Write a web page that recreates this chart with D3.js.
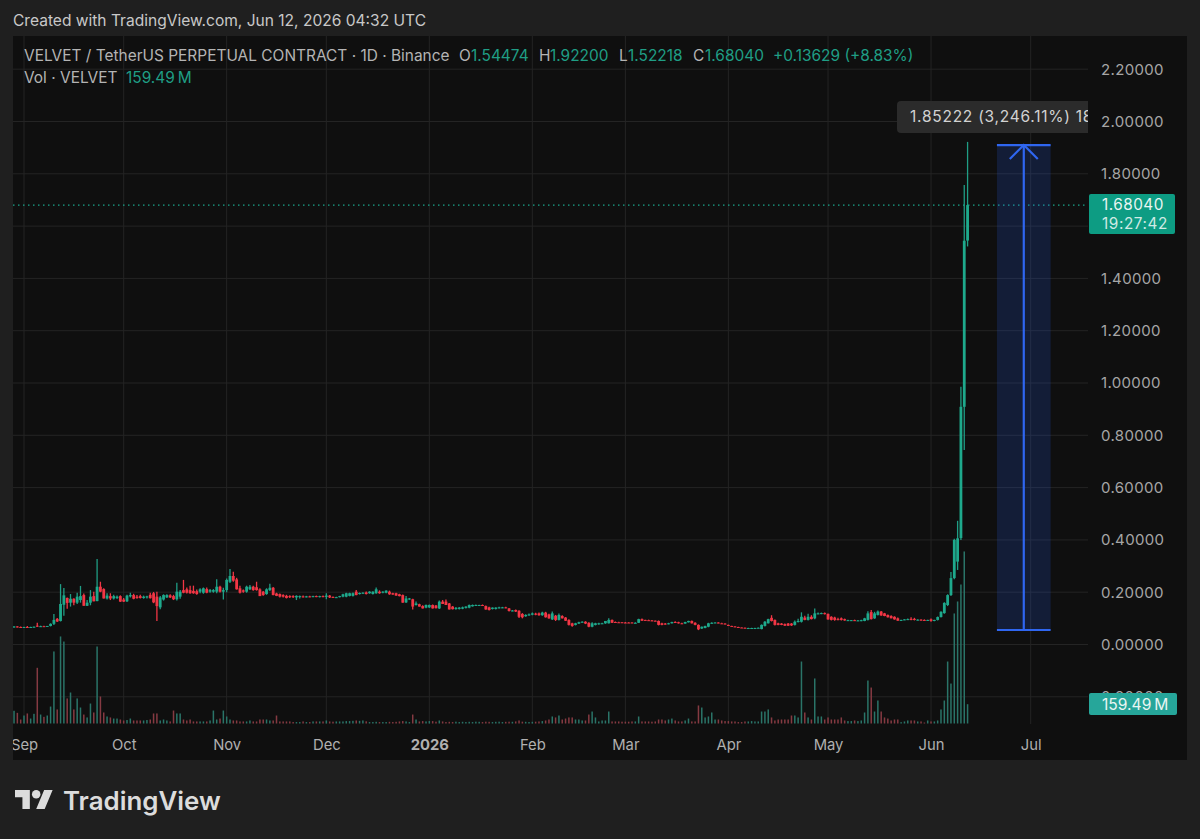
<!DOCTYPE html>
<html>
<head>
<meta charset="utf-8">
<script src="https://cdn.jsdelivr.net/npm/d3@7"></script>
<style>
  html, body { margin: 0; padding: 0; background: #1f1f1f; }
  svg { display: block; font-family: Inter, "Noto Sans", sans-serif; }
</style>
</head>
<body>
<div id="chart"></div>
<script>
// daily candles, first one is Aug 29 2025
const firstDay = Date.UTC(2025, 7, 29);

const opens = [
  .067,.069,.067,.066,.067,.066,.067,.072,.069,.070,
  .069,.071,.079,.098,.090,.152,.178,.160,.175,.160,
  .170,.189,.148,.160,.185,.166,.221,.212,.176,.185,
  .176,.178,.185,.172,.165,.184,.189,.183,.185,.178,
  .180,.190,.196,.183,.142,.172,.180,.188,.185,.173,
  .183,.208,.211,.208,.205,.204,.202,.198,.212,.202,
  .202,.202,.221,.202,.208,.240,.262,.249,.215,.207,
  .202,.211,.221,.219,.211,.202,.193,.208,.217,.195,
  .193,.189,.186,.185,.185,.180,.182,.184,.182,.184,
  .183,.185,.183,.185,.182,.187,.182,.181,.181,.183,
  .183,.186,.186,.202,.193,.196,.199,.196,.193,.196,
  .202,.198,.198,.202,.196,.196,.192,.189,.161,.173,
  .173,.151,.154,.147,.141,.142,.151,.149,.138,.164,
  .164,.157,.145,.136,.136,.137,.140,.141,.146,.149,
  .150,.151,.147,.142,.136,.136,.140,.140,.142,.138,
  .129,.132,.129,.117,.108,.112,.114,.118,.119,.112,
  .122,.115,.096,.110,.094,.109,.103,.094,.081,.075,
  .080,.085,.087,.083,.068,.075,.078,.080,.081,.081,
  .094,.086,.085,.085,.084,.084,.084,.083,.083,.097,
  .094,.093,.092,.091,.090,.081,.080,.078,.081,.086,
  .085,.081,.080,.085,.090,.083,.075,.061,.063,.068,
  .081,.083,.084,.081,.080,.075,.071,.069,.067,.065,
  .064,.063,.063,.063,.063,.059,.071,.081,.102,.094,
  .081,.080,.078,.080,.080,.075,.086,.087,.103,.094,
  .106,.100,.119,.118,.120,.117,.106,.103,.097,.100,
  .097,.092,.092,.093,.092,.092,.090,.094,.124,.100,
  .113,.126,.119,.113,.109,.106,.100,.091,.094,.096,
  .098,.098,.094,.095,.094,.093,.096,.090,.094,.105,
  .120,.151,.189,.254,.317,.407,.909,1.54474
];
const highs = [
  .070,.070,.069,.068,.071,.068,.069,.083,.072,.072,
  .071,.081,.117,.101,.231,.216,.180,.193,.177,.198,
  .224,.195,.170,.208,.202,.327,.240,.215,.196,.196,
  .190,.187,.188,.178,.190,.198,.194,.189,.190,.187,
  .186,.198,.201,.202,.185,.192,.192,.192,.190,.236,
  .208,.247,.218,.225,.225,.210,.215,.218,.218,.212,
  .212,.250,.225,.217,.252,.289,.278,.255,.225,.210,
  .225,.228,.225,.240,.215,.205,.215,.232,.220,.198,
  .195,.192,.190,.188,.188,.188,.187,.187,.186,.186,
  .186,.187,.186,.187,.196,.189,.184,.183,.186,.194,
  .198,.198,.199,.208,.199,.200,.203,.204,.204,.218,
  .207,.204,.207,.206,.198,.198,.194,.191,.185,.178,
  .175,.164,.156,.150,.153,.153,.153,.151,.168,.170,
  .172,.159,.147,.143,.143,.145,.146,.153,.153,.153,
  .152,.153,.149,.144,.142,.142,.144,.144,.144,.140,
  .132,.134,.131,.120,.116,.119,.122,.121,.122,.125,
  .125,.118,.126,.113,.119,.112,.105,.097,.083,.083,
  .087,.089,.089,.085,.085,.083,.083,.083,.090,.100,
  .096,.088,.087,.086,.086,.085,.085,.085,.098,.099,
  .095,.095,.094,.092,.092,.083,.082,.083,.087,.089,
  .087,.083,.087,.091,.092,.085,.077,.069,.072,.083,
  .085,.085,.085,.083,.081,.076,.072,.070,.068,.066,
  .065,.064,.064,.064,.065,.077,.090,.098,.112,.096,
  .083,.082,.080,.082,.082,.092,.098,.123,.110,.118,
  .112,.138,.122,.122,.122,.119,.108,.106,.102,.103,
  .099,.095,.094,.095,.094,.095,.102,.127,.132,.125,
  .130,.128,.121,.115,.112,.108,.103,.095,.097,.099,
  .104,.102,.097,.097,.096,.095,.099,.095,.107,.127,
  .162,.192,.277,.404,.473,.986,1.757,1.922
];
const lows = [
  .064,.065,.065,.064,.065,.064,.065,.067,.067,.068,
  .068,.069,.075,.086,.088,.110,.137,.145,.150,.155,
  .160,.148,.147,.150,.165,.165,.200,.176,.172,.170,
  .172,.174,.163,.163,.163,.180,.173,.175,.176,.175,
  .176,.176,.158,.090,.135,.168,.178,.178,.170,.168,
  .175,.196,.195,.194,.194,.190,.196,.194,.196,.198,
  .198,.196,.199,.172,.200,.235,.240,.210,.195,.198,
  .198,.208,.206,.206,.185,.186,.190,.205,.188,.185,
  .180,.180,.176,.178,.178,.170,.176,.180,.180,.181,
  .181,.181,.180,.181,.173,.178,.178,.179,.180,.181,
  .181,.184,.184,.188,.191,.194,.191,.194,.191,.194,
  .194,.196,.196,.190,.190,.186,.184,.160,.159,.171,
  .134,.149,.145,.138,.139,.140,.138,.138,.136,.155,
  .151,.134,.134,.133,.134,.135,.138,.139,.145,.148,
  .148,.148,.133,.130,.134,.134,.138,.139,.139,.126,
  .127,.124,.101,.100,.106,.110,.112,.112,.110,.110,
  .103,.098,.094,.090,.092,.099,.090,.073,.068,.073,
  .078,.084,.078,.066,.066,.073,.076,.078,.079,.080,
  .082,.083,.083,.083,.082,.082,.082,.081,.082,.090,
  .092,.091,.090,.089,.073,.074,.076,.077,.080,.084,
  .080,.078,.079,.084,.080,.074,.055,.059,.062,.066,
  .079,.082,.081,.079,.077,.071,.069,.067,.065,.064,
  .063,.062,.062,.062,.062,.058,.069,.080,.088,.073,
  .074,.074,.071,.071,.071,.073,.084,.084,.093,.092,
  .096,.097,.116,.116,.115,.095,.092,.091,.093,.092,
  .091,.090,.090,.090,.090,.089,.089,.092,.096,.098,
  .111,.110,.108,.103,.100,.095,.091,.090,.093,.094,
  .093,.092,.092,.092,.092,.091,.087,.089,.092,.103,
  .118,.147,.185,.250,.285,.400,.744,1.52218
];
const closes = [
  .069,.067,.066,.067,.066,.067,.068,.069,.070,.069,
  .071,.079,.094,.088,.155,.188,.159,.175,.160,.183,
  .185,.148,.160,.183,.165,.221,.202,.176,.187,.176,
  .185,.183,.164,.164,.187,.189,.175,.178,.178,.183,
  .184,.177,.161,.147,.180,.189,.189,.180,.173,.202,
  .202,.198,.198,.196,.196,.193,.211,.215,.198,.208,
  .208,.221,.202,.208,.247,.262,.244,.211,.198,.202,
  .221,.221,.208,.208,.185,.189,.211,.217,.189,.186,
  .183,.183,.178,.181,.181,.186,.185,.182,.184,.183,
  .185,.183,.185,.182,.187,.180,.180,.181,.185,.192,
  .196,.196,.196,.189,.197,.198,.193,.202,.202,.211,
  .196,.202,.206,.192,.191,.187,.185,.160,.176,.176,
  .145,.157,.145,.138,.151,.151,.138,.139,.164,.155,
  .151,.134,.135,.140,.141,.142,.145,.151,.151,.151,
  .151,.149,.134,.132,.141,.141,.142,.142,.140,.128,
  .130,.126,.106,.104,.113,.115,.119,.114,.112,.122,
  .104,.100,.119,.094,.113,.100,.091,.075,.071,.081,
  .085,.087,.080,.068,.081,.081,.081,.081,.090,.094,
  .083,.084,.084,.084,.083,.083,.083,.083,.097,.091,
  .093,.092,.091,.090,.075,.075,.077,.081,.086,.085,
  .081,.079,.086,.090,.081,.075,.058,.068,.071,.081,
  .083,.084,.081,.080,.077,.071,.069,.067,.065,.064,
  .063,.063,.063,.063,.064,.075,.087,.097,.090,.075,
  .075,.075,.072,.072,.073,.087,.090,.106,.094,.106,
  .097,.119,.119,.120,.116,.096,.094,.094,.095,.094,
  .092,.093,.093,.092,.092,.093,.100,.119,.097,.119,
  .126,.111,.109,.104,.100,.096,.091,.094,.096,.097,
  .094,.094,.095,.094,.093,.094,.090,.094,.105,.125,
  .159,.189,.254,.400,.406,.909,1.54411,1.6804
];
// volume in millions
const volumes = [
  105,88,33,66,83,41,80,460,74,55,
  66,140,595,116,719,677,207,256,116,207,
  132,74,50,165,91,636,223,91,58,50,
  41,41,33,25,29,41,25,25,25,25,
  29,33,83,83,25,33,25,17,107,83,
  83,33,25,33,17,17,17,17,17,25,
  107,33,41,107,58,33,25,25,17,17,
  17,25,17,17,33,33,33,25,25,66,
  17,17,17,17,12,12,12,17,12,12,
  17,17,17,17,25,17,15,17,17,17,
  20,20,22,25,22,25,18,12,12,14,
  12,12,12,14,12,14,17,20,17,12,
  74,33,17,20,17,20,20,15,25,17,
  12,14,12,15,12,14,12,14,12,15,
  14,12,15,14,12,14,15,12,14,15,
  14,17,25,15,14,12,14,15,17,20,
  25,33,58,50,66,33,41,50,50,33,
  33,25,25,74,99,50,17,25,25,99,
  17,17,17,15,15,15,17,17,58,17,
  17,17,15,17,33,33,25,33,41,25,
  17,17,25,41,17,17,149,132,50,58,
  91,33,33,25,20,20,17,17,12,12,
  17,17,20,17,17,99,99,116,50,25,
  33,33,33,33,66,66,50,512,91,50,
  33,372,58,58,33,50,33,33,33,50,
  25,20,20,25,20,25,91,355,297,99,
  190,99,50,41,25,33,33,11,17,25,
  25,25,17,17,8,25,17,17,25,116,
  190,512,330,909,1008,1148,1421,159.49
];

const priceTicks = [-0.2, 0, 0.2, 0.4, 0.6, 0.8, 1.0, 1.2, 1.4, 1.6, 1.8, 2.0, 2.2];
// 1.60000 sits behind the last price tag, so it gets no label
const priceLabels = [-0.2, 0, 0.2, 0.4, 0.6, 0.8, 1.0, 1.2, 1.4, 1.8, 2.0, 2.2];
const monthTicks = [
  Date.UTC(2025, 8, 1), Date.UTC(2025, 9, 1), Date.UTC(2025, 10, 1), Date.UTC(2025, 11, 1),
  Date.UTC(2026, 0, 1), Date.UTC(2026, 1, 1), Date.UTC(2026, 2, 1), Date.UTC(2026, 3, 1),
  Date.UTC(2026, 4, 1), Date.UTC(2026, 5, 1), Date.UTC(2026, 6, 1)
];
const monthLabels = ["Sep", "Oct", "Nov", "Dec", "2026", "Feb", "Mar", "Apr", "May", "Jun", "Jul"];

// measure tool, price range and the days it spans
const measurePrices = [0.0555, 1.91];
const measureDays = [Date.UTC(2026, 5, 20, 20), Date.UTC(2026, 6, 7)];

const lastClose = 1.6804;
const lastVolume = 159.49;

const legendParts = [
  ["VELVET / TetherUS PERPETUAL CONTRACT · 1D · Binance", 24, "#b4b4b4"],
  ["O", 459, "#b4b4b4"], ["1.54474", 471, "#1f9e85"],
  ["H", 539, "#b4b4b4"], ["1.92200", 550, "#1f9e85"],
  ["L", 619, "#b4b4b4"], ["1.52218", 628, "#1f9e85"],
  ["C", 693, "#b4b4b4"], ["1.68040", 705, "#1f9e85"],
  ["+0.13629 (+8.83%)", 773, "#1f9e85"]
];

const width = 1200, height = 839;
const plot = { left: 13, right: 1088, top: 36, bottom: 724, end: 760, edge: 1187 };

const x = d3.scaleUtc()
  .domain([monthTicks[0], monthTicks[10]])
  .range([24, 1030.7]);
const y = d3.scaleLinear()
  .domain([0, 2.2])
  .range([644.5, 69.2]);
const volY = d3.scaleLinear()
  .domain([0, 1500])
  .range([723.5, 723.5 - 1500 / 8.26]);

const dayX = i => x(firstDay + i * 864e5);
const isUp = i => closes[i] >= opens[i];

const svg = d3.select("#chart").append("svg")
  .attr("width", width)
  .attr("height", height);

svg.append("rect")
  .attr("width", width).attr("height", height)
  .attr("fill", "#1f1f1f");

svg.append("text")
  .attr("x", 13).attr("y", 26)
  .attr("font-size", 15.55)
  .attr("fill", "#c8c8c8")
  .text("Created with TradingView.com, Jun 12, 2026 04:32 UTC");

// main panel
svg.append("rect")
  .attr("x", plot.left).attr("y", plot.top)
  .attr("width", plot.edge - plot.left).attr("height", plot.end - plot.top)
  .attr("fill", "#0f0f0f");

const defs = svg.append("defs");
defs.append("clipPath").attr("id", "plotClip").append("rect")
  .attr("x", plot.left).attr("y", plot.top)
  .attr("width", plot.right - plot.left).attr("height", plot.end - plot.top);

const pane = svg.append("g").attr("clip-path", "url(#plotClip)");

// grid
pane.selectAll(".hGrid")
  .data(priceTicks)
  .enter().append("line")
  .attr("class", "hGrid")
  .attr("x1", plot.left).attr("x2", plot.right)
  .attr("y1", d => y(d)).attr("y2", d => y(d))
  .attr("stroke", "#242424");
pane.selectAll(".vGrid")
  .data(monthTicks)
  .enter().append("line")
  .attr("class", "vGrid")
  .attr("x1", d => x(d)).attr("x2", d => x(d))
  .attr("y1", plot.top).attr("y2", plot.bottom)
  .attr("stroke", "#242424");

// volume
pane.selectAll(".vol")
  .data(volumes)
  .enter().append("rect")
  .attr("class", "vol")
  .attr("x", (d, i) => dayX(i) - 0.75)
  .attr("width", 1.5)
  .attr("y", d => volY(d))
  .attr("height", d => volY(0) - volY(d))
  .attr("fill", (d, i) => isUp(i) ? "#2a7468" : "#853a42");

// last price line
pane.append("line")
  .attr("x1", plot.left).attr("x2", plot.right)
  .attr("y1", y(lastClose)).attr("y2", y(lastClose))
  .attr("stroke", "#1ba68c")
  .attr("stroke-width", 1.2)
  .attr("stroke-dasharray", "1.5 3.5");

// candles
pane.selectAll(".wick")
  .data(closes)
  .enter().append("line")
  .attr("class", "wick")
  .attr("x1", (d, i) => dayX(i)).attr("x2", (d, i) => dayX(i))
  .attr("y1", (d, i) => y(highs[i])).attr("y2", (d, i) => y(lows[i]))
  .attr("stroke-width", 1.3)
  .attr("stroke", (d, i) => isUp(i) ? "#1f9e85" : "#f23645");
pane.selectAll(".body")
  .data(closes)
  .enter().append("rect")
  .attr("class", "body")
  .attr("x", (d, i) => dayX(i) - 1.4)
  .attr("width", 2.8)
  .attr("y", (d, i) => y(Math.max(opens[i], d)))
  .attr("height", (d, i) => Math.max(1, Math.abs(y(opens[i]) - y(d))))
  .attr("fill", (d, i) => isUp(i) ? "#1ea98c" : "#f23645");

// measure tool
const mLeft = x(measureDays[0]), mRight = x(measureDays[1]), mMid = (mLeft + mRight) / 2;
const mTop = y(measurePrices[1]), mBottom = y(measurePrices[0]);
pane.append("rect")
  .attr("x", mLeft).attr("y", mTop)
  .attr("width", mRight - mLeft).attr("height", mBottom - mTop)
  .attr("fill", "#2962ff").attr("fill-opacity", 0.17);
pane.selectAll(".mEdge")
  .data(measurePrices)
  .enter().append("line")
  .attr("class", "mEdge")
  .attr("x1", mLeft).attr("x2", mRight)
  .attr("y1", d => y(d)).attr("y2", d => y(d))
  .attr("stroke", "#2f66f0").attr("stroke-width", 2.2);
pane.append("line")
  .attr("x1", mMid).attr("x2", mMid)
  .attr("y1", mTop).attr("y2", mBottom)
  .attr("stroke", "#2f66f0").attr("stroke-width", 2.2);
pane.append("path")
  .attr("d", d3.line()([[mMid - 14, mTop + 14], [mMid, mTop], [mMid + 14, mTop + 14]]))
  .attr("fill", "none")
  .attr("stroke", "#2f66f0").attr("stroke-width", 2.2);

// measure label, runs off the pane on the right
pane.append("rect")
  .attr("x", 897).attr("y", 101)
  .attr("width", 210).attr("height", 32)
  .attr("rx", 4)
  .attr("fill", "#2b2b2b");
pane.append("text")
  .attr("x", 910).attr("y", 122)
  .attr("font-size", 15.5)
  .attr("letter-spacing", 0.75)
  .attr("fill", "#d2d2d2")
  .text("1.85222 (3,246.11%) 18");

// price axis
const priceAxis = d3.axisRight(y)
  .tickValues(priceLabels)
  .tickSize(0)
  .tickPadding(0)
  .tickFormat(d => Math.abs(d).toFixed(5));
const priceG = svg.append("g")
  .attr("transform", "translate(1101,0)")
  .call(priceAxis);
priceG.select(".domain").remove();
priceG.selectAll("text")
  .attr("font-size", 15)
  .attr("font-family", "Inter, 'Noto Sans', sans-serif")
  .attr("letter-spacing", 0.35)
  .attr("fill", "#a6a6a6");

// time axis
const timeAxis = d3.axisBottom(x)
  .tickValues(monthTicks)
  .tickSize(0)
  .tickPadding(0)
  .tickFormat((d, i) => monthLabels[i]);
const timeG = svg.append("g")
  .attr("transform", "translate(0,739)")
  .call(timeAxis);
timeG.select(".domain").remove();
timeG.selectAll("text")
  .attr("font-size", 14.8)
  .attr("font-family", "Inter, 'Noto Sans', sans-serif")
  .attr("fill", "#b0b0b0")
  .attr("font-weight", (d, i) => monthLabels[i] === "2026" ? 700 : 400);
// Sep gets cut by the pane edge
svg.append("rect")
  .attr("x", 0).attr("y", 730)
  .attr("width", plot.left).attr("height", 30)
  .attr("fill", "#1f1f1f");

// legend
svg.selectAll(".legend")
  .data(legendParts)
  .enter().append("text")
  .attr("class", "legend")
  .attr("x", d => d[1]).attr("y", 61)
  .attr("font-size", 15.45)
  .attr("fill", d => d[2])
  .text(d => d[0]);
svg.append("text")
  .attr("x", 24).attr("y", 83)
  .attr("font-size", 15.45)
  .attr("fill", "#b4b4b4")
  .text("Vol · VELVET");
svg.append("text")
  .attr("x", 126).attr("y", 83)
  .attr("font-size", 15.45)
  .attr("fill", "#1f9e85")
  .text(lastVolume.toFixed(2) + "\u2009M");

// last price tag
svg.append("rect")
  .attr("x", 1089).attr("y", y(lastClose) - 11)
  .attr("width", 86).attr("height", 40)
  .attr("rx", 2)
  .attr("fill", "#0d9c83");
svg.append("text")
  .attr("x", 1102).attr("y", y(lastClose) + 5)
  .attr("font-size", 15.3)
  .attr("letter-spacing", 0.5)
  .attr("fill", "#e8f5f2")
  .text(lastClose.toFixed(5));
svg.append("text")
  .attr("x", 1102).attr("y", y(lastClose) + 24)
  .attr("font-size", 15.3)
  .attr("letter-spacing", 0.6)
  .attr("fill", "#cfeae4")
  .text("19:27:42");

// volume tag
svg.append("rect")
  .attr("x", 1089).attr("y", 693)
  .attr("width", 88).attr("height", 22)
  .attr("rx", 2)
  .attr("fill", "#26a69a");
svg.append("text")
  .attr("x", 1102).attr("y", 709.5)
  .attr("font-size", 15.6)
  .attr("fill", "#e8f5f2")
  .text(lastVolume.toFixed(2) + "\u2009M");

// logo
const logo = svg.append("g")
  .attr("transform", "translate(15,785.7) scale(1.06)")
  .attr("fill", "#dcdcdc");
logo.append("path").attr("d", "M14 22H7V11H0V4h14v18zM28 22h-8l7.5-18h8L28 22z");
logo.append("circle").attr("cx", 20).attr("cy", 8).attr("r", 4);
svg.append("text")
  .attr("x", 63).attr("y", 810)
  .attr("font-size", 25.9)
  .attr("font-weight", 600)
  .attr("fill", "#dcdcdc")
  .text("TradingView");
</script>
</body>
</html>
